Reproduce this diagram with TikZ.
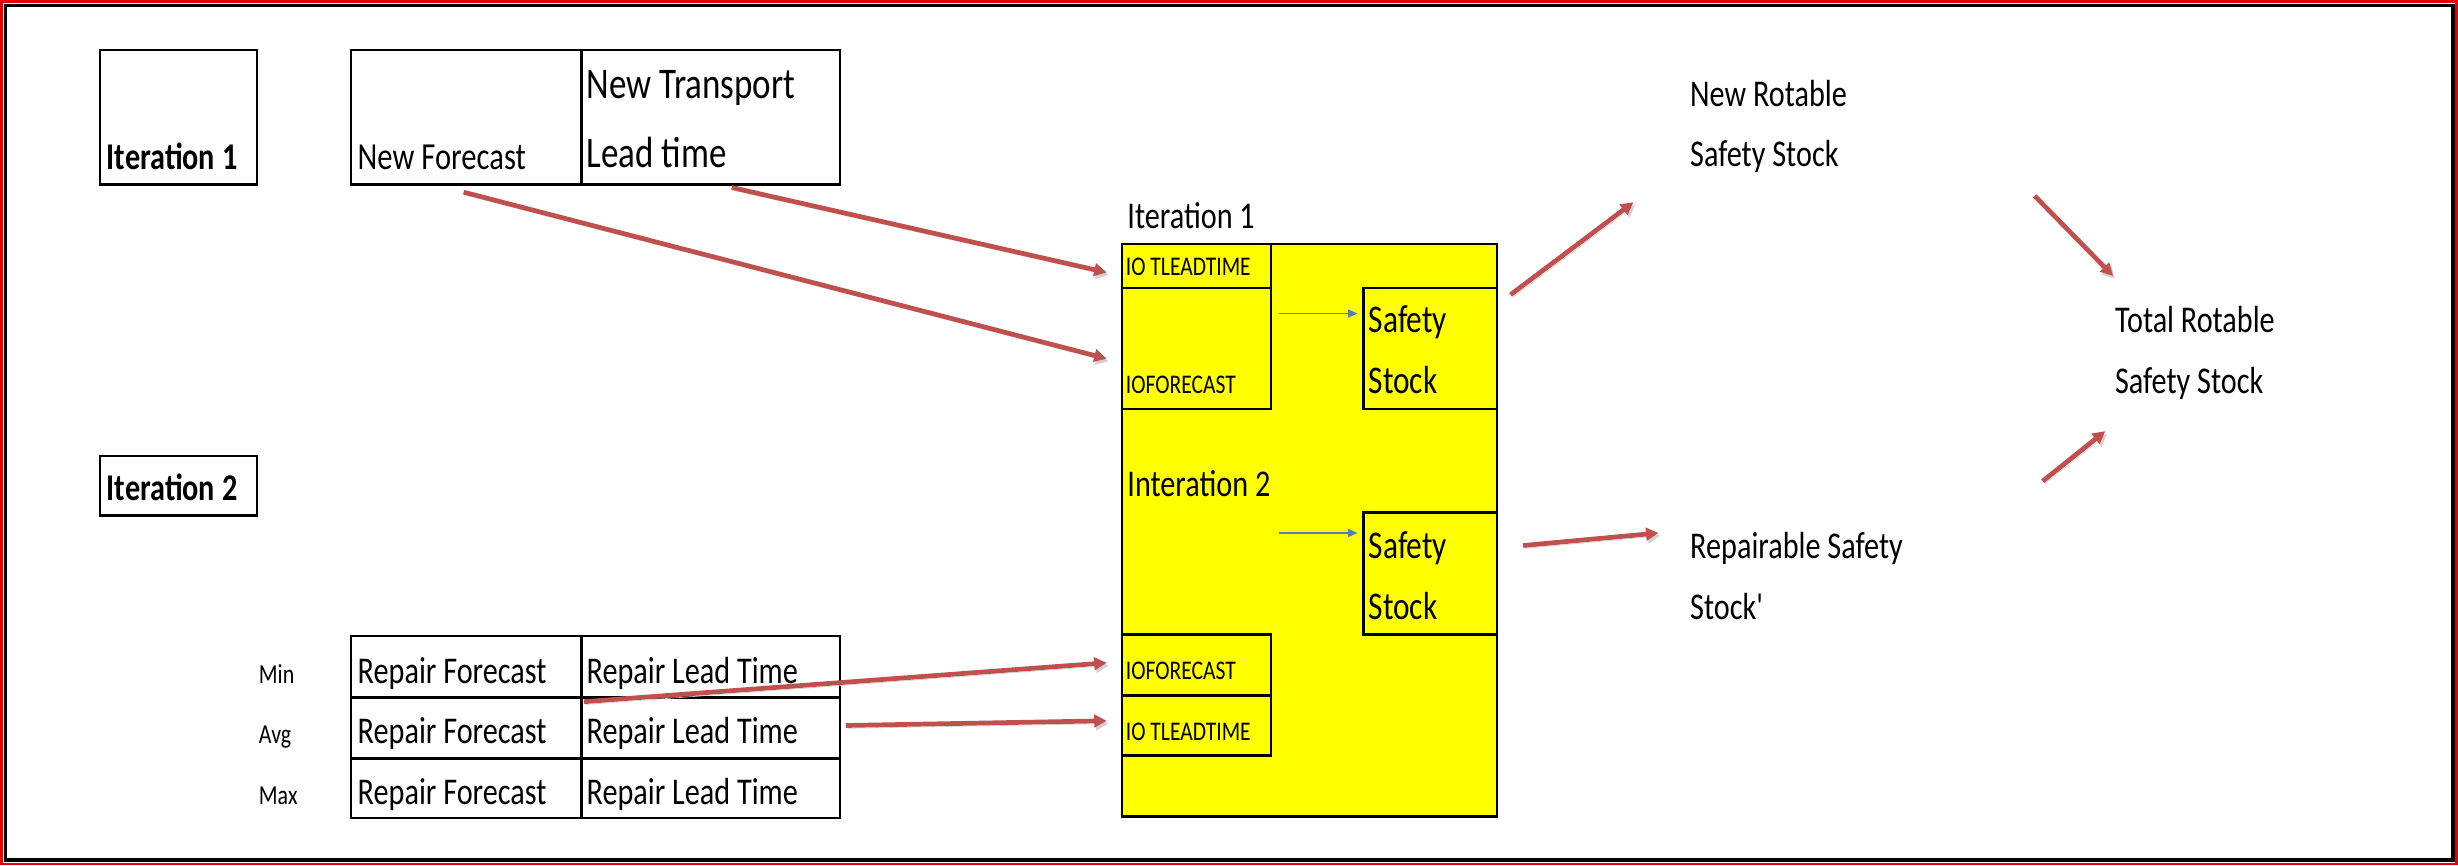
\documentclass[tikz,border=0pt]{standalone}
\usepackage{fontspec}
\setmainfont{Carlito}[FakeStretch=0.8]
\usepackage{tikz}
\usetikzlibrary{arrows.meta, calc}
\definecolor{cArrow}{RGB}{192,80,77}
\definecolor{cBlue}{RGB}{79,129,189}
\definecolor{cYellow}{RGB}{255,255,0}
\definecolor{cFrame}{RGB}{230,0,0}
\newcommand{\straightquote}{\XeTeXglyph\XeTeXcharglyph"0027\relax}
\tikzset{
	cell/.style     ={rectangle, draw=black, line width=1.6pt, anchor=north west, inner sep=0pt},
	ycell/.style    ={cell, fill=cYellow},
	txt/.style      ={anchor=base west, inner sep=0pt, align=left, font=\fontsize{24.1}{38.6}\selectfont},
	iotxt/.style    ={anchor=base west, inner sep=0pt, font=\fontsize{17.2}{20}\selectfont},
	rowtxt/.style   ={anchor=base west, inner sep=0pt, font=\fontsize{17.5}{20}\selectfont},
	% connector styles
	redflow/.style  ={-{Triangle[length=8pt,width=8pt]}, line width=3pt, draw=cArrow, preaction={draw=black!18, transform canvas={shift={(1.2pt,-1.8pt)}}}},
	blueflow/.style ={-{Triangle[length=6pt,width=5pt]}, line width=1pt, draw=cBlue},
}

\begin{document}
\begin{tikzpicture}[x=1pt, y=-1pt]
	\useasboundingbox (0,0) rectangle (1568,552);
	\draw[cFrame, line width=1.5pt] (1,1) rectangle (1567,551);
	\draw[line width=2.5pt] (3.5,3.5) rectangle (1564.5,548.5);
	% left side inputs
	\node[cell, minimum width=100pt, minimum height=86pt] (it1) at (63,31) {};
	\node[txt, font=\bfseries\fontsize{24.1}{28}\selectfont] (it1t) at (68,108) {Iteration 1};
	\node[cell, minimum width=147pt, minimum height=86pt] (nf) at (223,31) {};
	\node[cell, minimum width=165pt, minimum height=86pt] (lt) at (370,31) {};
	\node[txt, font=\fontsize{24.4}{28}\selectfont] (nft) at (228,108) {New Forecast};
	\node[txt, font=\fontsize{27.9}{44}\selectfont] (ltt) at (374,107) {New Transport\\Lead time};
	\node[cell, minimum width=100pt, minimum height=38pt] (it2) at (63,290) {};
	\node[txt, font=\bfseries\fontsize{24.1}{28}\selectfont] (it2t) at (68,319) {Iteration 2};
	\node[rowtxt] (rmin) at (165,436) {Min};
	\node[rowtxt] (ravg) at (165,474) {Avg};
	\node[rowtxt] (rmax) at (165,513) {Max};
	\node[cell, minimum width=147pt, minimum height=39pt] (rf1) at (223,405) {};
	\node[cell, minimum width=165pt, minimum height=39pt] (rl1) at (370,405) {};
	\node[cell, minimum width=147pt, minimum height=39pt] (rf2) at (223,444) {};
	\node[cell, minimum width=165pt, minimum height=39pt] (rl2) at (370,444) {};
	\node[cell, minimum width=147pt, minimum height=38pt] (rf3) at (223,483) {};
	\node[cell, minimum width=165pt, minimum height=38pt] (rl3) at (370,483) {};
	\node[txt] (rf1t) at (228,436) {Repair Forecast};
	\node[txt] (rl1t) at (374,436) {Repair Lead Time};
	\node[txt] (rf2t) at (228,474) {Repair Forecast};
	\node[txt] (rl2t) at (374,474) {Repair Lead Time};
	\node[txt] (rf3t) at (228,513) {Repair Forecast};
	\node[txt] (rl3t) at (374,513) {Repair Lead Time};
	% yellow block
	\node[ycell, minimum width=239pt, minimum height=365pt] (yb) at (715,155) {};
	\node[txt] (yb1) at (719,146) {Iteration 1};
	\node[txt] (yb2) at (719,317) {Interation 2};
	\node[ycell, minimum width=95pt, minimum height=28pt] (iot1) at (715,155) {};
	\node[ycell, minimum width=95pt, minimum height=77pt] (iof1) at (715,183) {};
	\node[ycell, minimum width=85pt, minimum height=77pt] (ss1) at (869,183) {};
	\node[ycell, minimum width=85pt, minimum height=78pt] (ss2) at (869,326) {};
	\node[ycell, minimum width=95pt, minimum height=39pt] (iof2) at (715,404) {};
	\node[ycell, minimum width=95pt, minimum height=38pt] (iot2) at (715,443) {};
	\node[iotxt] (iot1t) at (718,176) {IO TLEADTIME};
	\node[iotxt] (iof1t) at (718,251) {IOFORECAST};
	\node[iotxt] (iof2t) at (718,433.5) {IOFORECAST};
	\node[iotxt] (iot2t) at (718,472.5) {IO TLEADTIME};
	\node[txt, font=\fontsize{25}{39}\selectfont] (ss1t) at (873,251) {Safety\\Stock};
	\node[txt, font=\fontsize{25}{39}\selectfont] (ss2t) at (873,395) {Safety\\Stock};
	% results
	\node[txt] (nrs) at (1078,106.4) {New Rotable\\Safety Stock};
	\node[txt] (trs) at (1349,250.7) {Total Rotable\\Safety Stock};
	\node[txt] (rss) at (1078,395) {Repairable Safety\\Stock\straightquote};
	\draw[blueflow] ([xshift=-53pt,yshift=-17pt]ss1.north west) -- ([xshift=-3pt,yshift=-17pt]ss1.north west);
	\draw[blueflow] ([xshift=-53pt,yshift=-14pt]ss2.north west) -- ([xshift=-3pt,yshift=-14pt]ss2.north west);
	\draw[redflow] ([xshift=-1.5pt,yshift=-4pt]nf.south) -- ([xshift=-9pt,yshift=-6.5pt]iof1.west);
	\draw[redflow] ([xshift=13.5pt,yshift=-1pt]lt.south) -- ([xshift=-9pt,yshift=-4pt]iot1.west);
	\draw[redflow] ([xshift=1pt,yshift=-2pt]rf1.south east) -- ([xshift=-9pt,yshift=1.5pt]iof2.west);
	\draw[redflow] ([xshift=3pt,yshift=1.5pt]rl2.east) -- ([xshift=-9pt,yshift=3pt]iot2.west);
	\draw[redflow] ([xshift=8pt,yshift=-5pt]ss1.north east) -- ([xshift=-36pt,yshift=-22.6pt]nrs.base west);
	\draw[redflow] ([xshift=16pt,yshift=-22pt]ss2.north east) -- ([xshift=-20pt,yshift=55pt]rss.base west);
	\draw[redflow] ([xshift=220pt,yshift=-18.6pt]nrs.base west) -- ([xshift=-1pt,yshift=74.7pt]trs.base west);
	\draw[redflow] ([xshift=225pt,yshift=88pt]rss.base west) -- ([xshift=-6pt,yshift=-24.3pt]trs.base west);
\end{tikzpicture}
\end{document}
